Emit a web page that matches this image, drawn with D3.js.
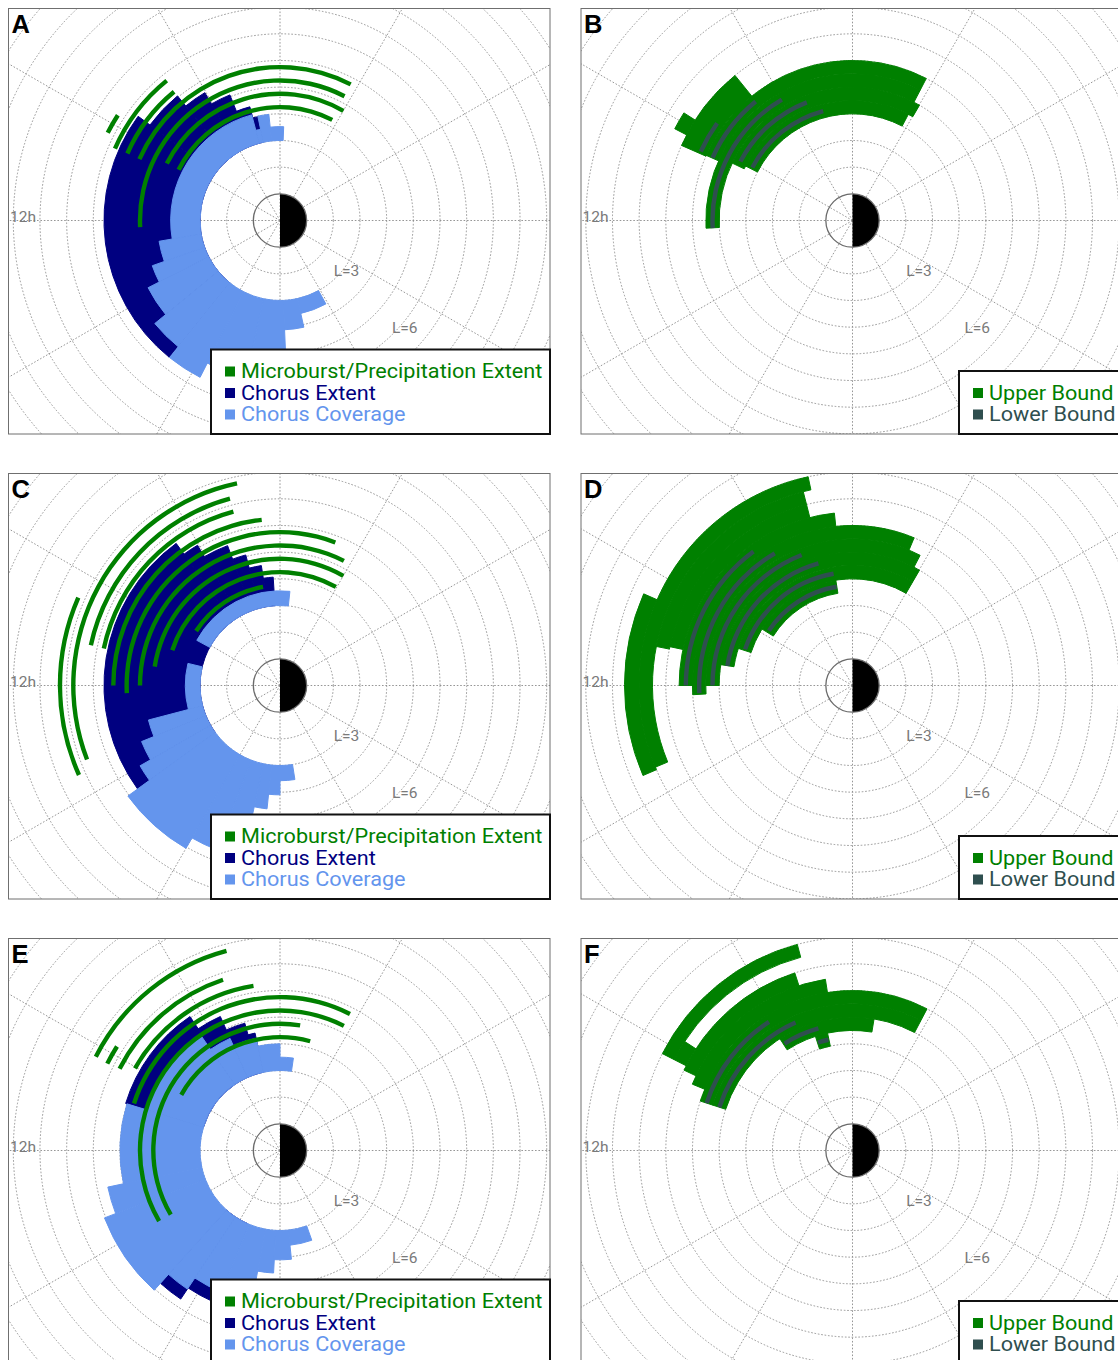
<!DOCTYPE html>
<html>
<head>
<meta charset="utf-8">
<script src="https://cdn.jsdelivr.net/npm/d3@7"></script>
<style>
  body { margin: 0; background: #fff; }
  svg { display: block; }
</style>
</head>
<body>
<svg id="chart" width="1118" height="1360"></svg>
<script>
// chorus sectors (per MLT bin): [mltStart, mltEnd, L inner, L outer]
// bound sectors (per L bin):    [L inner, L outer, mltStart, mltEnd]
// arcs (per L bin centre):      [L, mltStart, mltEnd]

// Panel A
const aExtent = [[6.8, 6.99, 3, 3.98], [6.99, 7.45, 3, 4.41], [7.45, 8.03, 3, 5.07], [8.03, 8.63, 3, 5.56],
  [8.63, 9.58, 3, 6.05], [9.58, 15.4, 3, 6.6]];
const aCoverage = [[5.85, 6.4, 3, 3.52], [6.4, 6.8, 3, 4.0], [6.8, 7.0, 3, 3.5], [7.0, 12.65, 3, 4.1],
  [12.65, 13.3, 3, 4.6], [13.3, 13.8, 3, 5.08], [13.8, 14.63, 3, 5.55], [14.63, 15.41, 3, 6.08],
  [15.41, 16.2, 3, 6.6], [16.2, 17.2, 3, 6.0], [17.2, 18.16, 3, 5.2], [18.16, 18.84, 3, 4.1], [18.84, 19.92, 3, 3.57]];
const aBursts = [[7.25, 9.8, 10.2], [6.75, 8.6, 10.43], [6.25, 8.63, 10.42], [5.75, 4.17, 10.43], [5.25, 4.17, 12.18],
  [4.75, 4.0, 10.22], [4.25, 4.17, 10.23]];

// Panel B
const bUpper = [[4.0, 4.5, 4.15, 10.2], [4.5, 5.0, 3.99, 10.3], [5.0, 5.5, 4.17, 12.2], [5.5, 6.0, 4.17, 10.4],
  [6.0, 7.0, 8.6, 10.42], [7.0, 7.5, 9.83, 10.18]];
const bLower = [[6.25, 9.62, 10.37], [5.75, 8.61, 10.39], [5.25, 8.02, 12.21], [4.75, 7.41, 10.15], [4.25, 7.0, 10.14]];

// Panel C
const cExtent = [[6.24, 6.59, 3, 4.07], [6.59, 6.98, 3, 4.55], [6.98, 7.37, 3, 5.06], [7.37, 8.03, 3, 5.6],
  [8.03, 8.41, 3, 6.1], [8.41, 14.4, 3, 6.6]];
const cCoverage = [[5.6, 10.1, 3, 3.55], [11.1, 12.98, 3, 3.55], [12.98, 13.47, 3, 5.1], [13.47, 13.99, 3, 5.6],
  [13.99, 14.4, 3, 6.05], [14.4, 16.0, 3, 7.05], [16.0, 16.6, 3, 6.6], [16.6, 17.2, 3, 5.5], [17.2, 17.6, 3, 4.65],
  [17.6, 18.0, 3, 4.1], [18.0, 18.6, 3, 3.57]];
const cBursts = [[8.25, 10.43, 13.6], [7.75, 6.8, 13.4], [7.25, 7.0, 11.2], [6.75, 7.0, 11.21], [6.25, 6.42, 12.0],
  [5.75, 4.59, 12.19], [5.25, 4.19, 12.0], [4.75, 4.0, 11.43], [4.25, 4.03, 10.79], [3.75, 6.65, 9.8]];

// Panel D
const dUpper = [[3.5, 4.0, 6.6, 9.87], [4.0, 4.5, 3.99, 10.8], [4.5, 5.0, 3.99, 11.4], [5.0, 5.5, 4.17, 12.0],
  [5.5, 6.0, 4.49, 12.22], [6.0, 6.5, 6.4, 12.0], [6.5, 7.0, 6.95, 11.2], [7.0, 7.5, 6.95, 11.25],
  [7.5, 8.0, 6.8, 13.5], [8.0, 8.55, 10.42, 13.55]];
const dLower = [[6.25, 8.43, 12.0], [5.75, 8.03, 12.19], [5.25, 7.42, 12.0], [4.75, 7.04, 11.41], [4.25, 6.64, 10.76],
  [3.75, 6.61, 9.78]];

// Panel E
const eExtent = [[6.8, 7.03, 3, 4.5], [7.03, 7.6, 3, 4.95], [7.6, 8.26, 3, 5.5], [8.26, 10.87, 3, 6.05],
  [15.2, 15.75, 3, 6.7], [15.75, 16.4, 3, 6.2]];
const eCoverage = [[5.45, 6.0, 3, 3.5], [6.0, 6.8, 3, 4.0], [6.8, 7.6, 3, 4.3], [7.6, 8.3, 3, 4.6], [8.3, 10.87, 3, 5.2],
  [10.87, 12.8, 3, 6.0], [12.8, 13.4, 3, 6.6], [13.4, 15.2, 3, 7.05], [15.2, 15.75, 3, 6.25], [15.75, 16.5, 3, 5.75],
  [16.5, 17.3, 3, 5.5], [17.3, 17.8, 3, 4.6], [17.8, 18.4, 3, 4.1], [18.4, 19.3, 3, 3.57]];
const eBursts = [[7.75, 7.0, 10.2], [7.25, 9.83, 10.22], [6.75, 7.23, 10.2], [6.25, 6.61, 10.03], [5.75, 4.19, 10.81],
  [5.25, 4.19, 14.02], [4.75, 5.39, 14.03], [4.25, 4.97, 10.04]];

// Panel F
const fUpper = [[4.0, 4.5, 6.8, 7.2], [4.5, 5.0, 5.38, 8.2], [5.0, 5.5, 4.15, 10.8], [5.5, 6.0, 4.15, 10.8],
  [6.0, 6.5, 6.6, 10.5], [6.5, 7.0, 7.2, 10.3], [7.0, 7.5, 9.8, 10.2], [7.5, 8.0, 7.0, 10.2]];
const fLower = [[5.75, 8.2, 10.8], [5.25, 7.6, 10.8], [4.75, 7.04, 8.16], [4.25, 6.82, 7.18]];

const chorusLegend = ['Microburst/Precipitation Extent', 'Chorus Extent', 'Chorus Coverage'];
const boundsLegend = ['Upper Bound', 'Lower Bound'];
const gridL = d3.range(2, 17);
const gridMLT = d3.range(0, 24, 2);

const colors = {
  burst: '#008000', extent: '#000080', coverage: '#6495ED', upper: '#008000', lower: '#2F4F4F'
};

// bounds rows -> same shape as chorus rows
const byL = rows => rows.map(d => [d[2], d[3], d[0], d[1]]);

const panels = [
  { letter: 'A', col: 0, row: 0, kind: 'chorus', extent: aExtent, coverage: aCoverage, lines: aBursts },
  { letter: 'B', col: 1, row: 0, kind: 'bounds', upper: byL(bUpper), lines: bLower },
  { letter: 'C', col: 0, row: 1, kind: 'chorus', extent: cExtent, coverage: cCoverage, lines: cBursts },
  { letter: 'D', col: 1, row: 1, kind: 'bounds', upper: byL(dUpper), lines: dLower },
  { letter: 'E', col: 0, row: 2, kind: 'chorus', extent: eExtent, coverage: eCoverage, lines: eBursts },
  { letter: 'F', col: 1, row: 2, kind: 'bounds', upper: byL(fUpper), lines: fLower }
];

const frame = { w: 541.5, h: 425.5 };
const colX = [8.5, 581];
const rowY = [8.5, 473.5, 938.5];
const centerOff = { x: 271.5, y: 212 };
const LPX = 26.67;
const textStretch = 1.11;

// L -> radius, MLT -> d3 angle (noon left, dawn top)
const rs = d3.scaleLinear().domain([0, 1]).range([0, LPX]);
const ang = d3.scaleLinear().domain([0, 24]).range([Math.PI / 2, Math.PI / 2 - 2 * Math.PI]);

const sector = d3.arc()
  .innerRadius(d => rs(d[2]))
  .outerRadius(d => rs(d[3]))
  .startAngle(d => ang(d[0]))
  .endAngle(d => ang(d[1]));

const band = d3.arc()
  .innerRadius(d => rs(d[0]) - 2.2)
  .outerRadius(d => rs(d[0]) + 2.2)
  .startAngle(d => ang(d[1]))
  .endAngle(d => ang(d[2]));

const svg = d3.select('#chart');
const defs = svg.append('defs');

const fillSectors = (g, rows, color) => {
  g.append('g').selectAll('path').data(rows).join('path')
    .attr('d', sector)
    .attr('fill', color)
    .attr('stroke', color)
    .attr('stroke-width', 1);
};

panels.forEach((p, i) => {
  const fx = colX[p.col], fy = rowY[p.row];
  const cx = fx + centerOff.x, cy = fy + centerOff.y;

  defs.append('clipPath').attr('id', `clip${i}`)
    .append('rect').attr('x', fx).attr('y', fy).attr('width', frame.w).attr('height', frame.h);

  const outer = svg.append('g');
  const clipped = outer.append('g').attr('clip-path', `url(#clip${i})`);
  const g = clipped.append('g').attr('transform', `translate(${cx},${cy})`);

  // grid circles
  g.selectAll('circle.grid').data(gridL).join('circle')
    .attr('class', 'grid')
    .attr('r', d => rs(d))
    .attr('fill', 'none')
    .attr('stroke', '#8a8a8a')
    .attr('stroke-width', 0.9)
    .attr('stroke-dasharray', '1.6,1.8');

  // radial spokes
  g.selectAll('line.spoke').data(gridMLT).join('line')
    .attr('class', 'spoke')
    .attr('x1', 0).attr('y1', 0)
    .attr('x2', d => 700 * Math.sin(ang(d)))
    .attr('y2', d => -700 * Math.cos(ang(d)))
    .attr('stroke', '#8a8a8a')
    .attr('stroke-width', 0.9)
    .attr('stroke-dasharray', '1.6,1.8');

  if (p.kind === 'chorus') {
    fillSectors(g, p.extent, colors.extent);
    fillSectors(g, p.coverage, colors.coverage);
    g.append('g').selectAll('path').data(p.lines).join('path')
      .attr('d', band).attr('fill', colors.burst);
  } else {
    fillSectors(g, p.upper, colors.upper);
    g.append('g').selectAll('path').data(p.lines).join('path')
      .attr('d', band).attr('fill', colors.lower);
  }

  // Earth: day side open, night side black
  g.append('path')
    .attr('d', d3.arc()({ innerRadius: 0, outerRadius: rs(1), startAngle: 0, endAngle: Math.PI }))
    .attr('fill', '#000');
  g.append('circle').attr('r', rs(1))
    .attr('fill', 'none').attr('stroke', '#6b6b6b').attr('stroke-width', 1.3);

  // labels
  const label = (parent, x, y, t, anchor) => parent.append('text')
    .attr('transform', `translate(${x},${y}) scale(${textStretch},1)`)
    .attr('text-anchor', anchor)
    .attr('font-family', 'Roboto').attr('font-size', 14)
    .attr('fill', '#7a7a7a').text(t);
  label(g, 66.5, 55.5, 'L=3', 'middle');
  label(g, 124.7, 112.5, 'L=6', 'middle');
  label(clipped, fx + 1.5, cy + 1.5, '12h', 'start');

  // frame
  outer.append('rect').attr('x', fx).attr('y', fy).attr('width', frame.w).attr('height', frame.h)
    .attr('fill', 'none').attr('stroke', '#6f6f6f').attr('stroke-width', 1);

  // legend
  const items = p.kind === 'chorus' ? chorusLegend : boundsLegend;
  const itemColors = p.kind === 'chorus'
    ? [colors.burst, colors.extent, colors.coverage]
    : [colors.upper, colors.lower];
  const rowH = 21.5;
  const lg = outer.append('g');
  const boxX = p.kind === 'chorus' ? fx + 202.5 : fx + 378;
  const boxH = p.kind === 'chorus' ? 84.5 : 63;
  const boxY = fy + frame.h - boxH;
  lg.append('rect')
    .attr('x', boxX).attr('y', boxY)
    .attr('width', fx + frame.w - boxX).attr('height', boxH)
    .attr('fill', '#fff').attr('stroke', '#111').attr('stroke-width', 2);
  items.forEach((t, k) => {
    const base = boxY + 28.5 + k * rowH;
    lg.append('rect').attr('x', boxX + 14).attr('y', base - 11.5)
      .attr('width', 10).attr('height', 10).attr('fill', itemColors[k]);
    lg.append('text')
      .attr('transform', `translate(${boxX + 30},${base}) scale(${textStretch},1)`)
      .attr('font-family', 'Roboto').attr('font-size', 19.5)
      .attr('fill', itemColors[k]).text(t);
  });

  // panel letter
  outer.append('text').attr('x', fx + 3).attr('y', fy + 24)
    .attr('font-family', 'Liberation Sans, Arial, sans-serif').attr('font-weight', 'bold')
    .attr('font-size', 25.5).attr('fill', '#000').text(p.letter);
});
</script>
</body>
</html>
